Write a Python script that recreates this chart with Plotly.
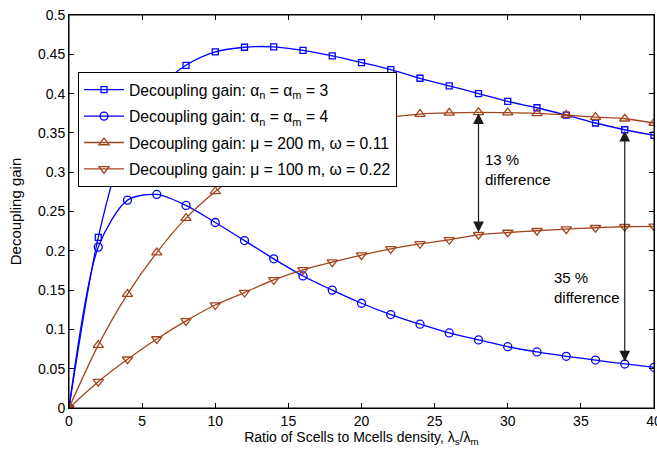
import plotly.graph_objects as go

x_vals = [0, 2, 4, 6, 8, 10, 12, 14, 16, 18, 20, 22, 24, 26, 28, 30, 32, 34, 36, 38, 40]

gain_alpha3 = [0, 0.217, 0.345, 0.405, 0.436, 0.453, 0.459, 0.4595, 0.455, 0.448, 0.4395,
               0.4306, 0.4195, 0.4098, 0.400, 0.390, 0.382, 0.3725, 0.3626, 0.354, 0.347]
gain_alpha4 = [0, 0.2047, 0.2645, 0.2717, 0.2577, 0.236, 0.213, 0.1898, 0.168, 0.150, 0.1333,
               0.1189, 0.1066, 0.0955, 0.0866, 0.078, 0.0713, 0.0658, 0.061, 0.056, 0.0518]
gain_mu200 = [0, 0.080, 0.145, 0.1978, 0.2416, 0.2755, 0.303, 0.325, 0.342, 0.355, 0.364,
              0.370, 0.374, 0.3755, 0.3762, 0.3758, 0.3748, 0.3728, 0.370, 0.368, 0.3626]
gain_mu100 = [0, 0.0335, 0.062, 0.0878, 0.1108, 0.131, 0.1469, 0.163, 0.1758, 0.1856, 0.1945,
              0.2025, 0.2089, 0.214, 0.2204, 0.2233, 0.2255, 0.2276, 0.2293, 0.2306, 0.231]

series_names = [
    "Decoupling gain: α<sub>n</sub> = α<sub>m</sub> = 3",
    "Decoupling gain: α<sub>n</sub> = α<sub>m</sub> = 4",
    "Decoupling gain: μ = 200 m, ω = 0.11",
    "Decoupling gain: μ = 100 m, ω = 0.22",
]

y_ticks = [0, 0.05, 0.1, 0.15, 0.2, 0.25, 0.3, 0.35, 0.4, 0.45, 0.5]
y_tick_text = ["0", "0.05", "0.1", "0.15", "0.2", "0.25", "0.3", "0.35", "0.4", "0.45", "0.5"]
x_ticks = [0, 5, 10, 15, 20, 25, 30, 35, 40]

BLUE = "#0000FF"
BROWN = "#A3451C"
FONT = "Liberation Sans, Arial, sans-serif"

fig = go.Figure()
styles = [
    (gain_alpha3, BLUE, "square-open", 6),
    (gain_alpha4, BLUE, "circle-open", 8),
    (gain_mu200, BROWN, "triangle-up-open", 9),
    (gain_mu100, BROWN, "triangle-down-open", 9),
]
for k, ((ys, col, sym, sz), name) in enumerate(zip(styles, series_names)):
    fig.add_trace(go.Scatter(
        x=x_vals, y=ys, name=name, mode="lines+markers", legendgroup=f"g{k}",
        line=dict(color=col, width=1.3, shape="spline", smoothing=0.8),
        marker=dict(symbol=sym, size=sz, color=col, line=dict(color=col, width=1.3)),
    ))

# double-headed arrows between curves
i28 = x_vals.index(28)
i38 = x_vals.index(38)
arrows = [
    (28, gain_mu200[i28], gain_mu100[i28]),
    (38, gain_alpha3[i38], gain_alpha4[i38]),
]
for xa, ytop, ybot in arrows:
    fig.add_annotation(x=xa, y=ytop, ax=xa, ay=ybot, xref="x", yref="y", axref="x", ayref="y",
                       showarrow=True, arrowhead=2, startarrowhead=2, arrowside="end+start",
                       arrowsize=1.8, startarrowsize=1.8, arrowwidth=1.2, arrowcolor="#1a1a1a",
                       standoff=1, startstandoff=1, text="")

fig.add_annotation(x=28.3, y=0.304, xref="x", yref="y", text="13 %<br>difference",
                   showarrow=False, xanchor="left", align="left",
                   font=dict(family=FONT, size=15, color="black"))
fig.add_annotation(x=33.0, y=0.153, xref="x", yref="y", text="35 %<br>difference",
                   showarrow=False, xanchor="left", align="left",
                   font=dict(family=FONT, size=15, color="black"))

# plot frame (box on)
fig.add_shape(type="rect", xref="paper", yref="paper", x0=0, y0=0, x1=1, y1=1,
              line=dict(color="black", width=1), fillcolor="rgba(0,0,0,0)", layer="above")

axis_common = dict(showline=True, linecolor="black", linewidth=1, mirror="ticks",
                   ticks="inside", ticklen=5, tickcolor="black", showgrid=False, zeroline=False,
                   automargin=False, ticklabeloverflow="allow",
                   tickfont=dict(family=FONT, size=14, color="black"))

fig.update_layout(
    width=657, height=455,
    margin=dict(l=69, r=3, t=15, b=47),
    paper_bgcolor="white", plot_bgcolor="white",
    font=dict(family=FONT, size=14, color="black"),
    xaxis=dict(range=[0, 40], tickvals=x_ticks,
               title=dict(text="Ratio of Scells to Mcells density, λ<sub>s</sub>/λ<sub>m</sub>",
                          font=dict(family=FONT, size=14), standoff=4),
               **axis_common),
    yaxis=dict(range=[0, 0.5], tickvals=y_ticks, ticktext=y_tick_text,
               title=dict(text="Decoupling gain", font=dict(family=FONT, size=15), standoff=12),
               **axis_common),
    legend=dict(x=0.0154, y=0.855, xanchor="left", yanchor="top",
                bgcolor="white", bordercolor="black", borderwidth=1,
                font=dict(family=FONT, size=15.7, color="black"),
                itemwidth=40, tracegroupgap=3),
    showlegend=True,
)

# remove the default page margin so the 657x455 figure fills the window exactly
fig.write_html("out.html", config={"displayModeBar": False},
               post_script="document.body.style.margin='0';document.body.style.overflow='hidden';")
